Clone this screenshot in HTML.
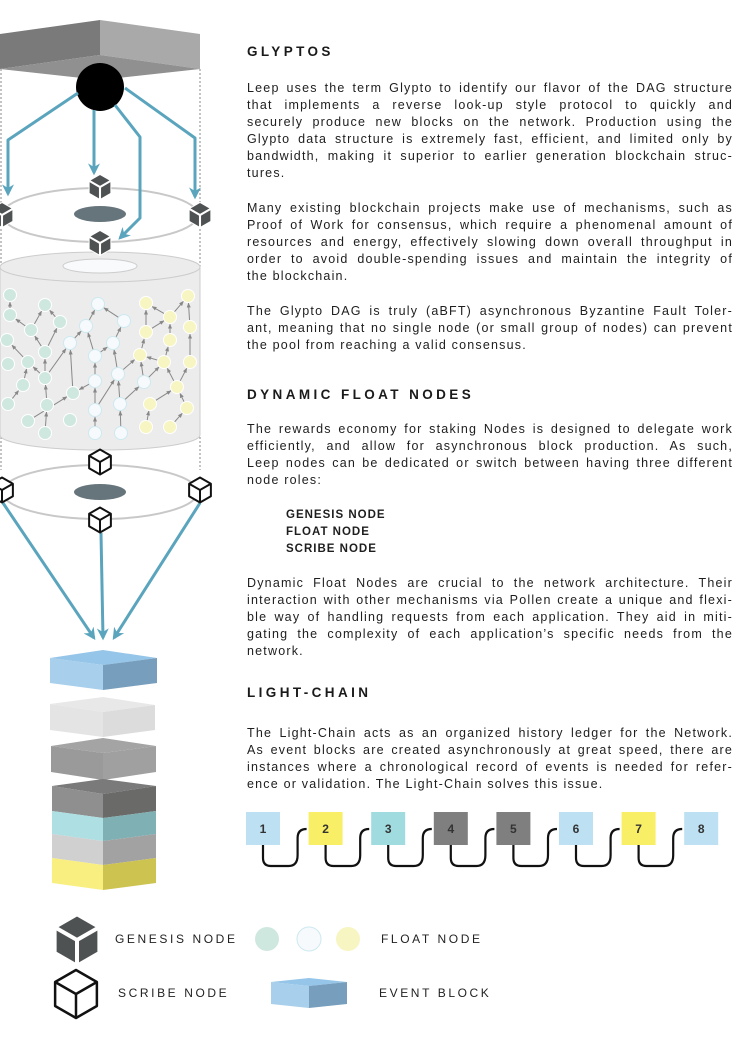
<!DOCTYPE html>
<html><head><meta charset="utf-8"><style>
html,body{margin:0;padding:0;background:#fff;width:745px;height:1043px;overflow:hidden;position:relative;font-family:"Liberation Sans",sans-serif;color:#1e1e1e}
.h{position:absolute;left:247px;font-weight:bold;font-size:13.5px;letter-spacing:3.4px;color:#1a1a1a}
.p{position:absolute;left:247px;width:486px;font-size:12.5px;letter-spacing:1.2px;line-height:17px}
.p div{text-align:justify;text-align-last:justify;white-space:nowrap;height:17px}
.p div.l{text-align-last:left}
.b{position:absolute;left:286px;font-weight:bold;font-size:11.5px;letter-spacing:1px;line-height:17px}
.lg{position:absolute;font-size:12px;letter-spacing:2.6px;color:#222}
</style></head><body>
<svg id="s" width="745" height="1043" style="position:absolute;left:0;top:0">
<defs>
<marker id="ta" viewBox="0 0 10 10" refX="8" refY="5" markerWidth="4" markerHeight="4" orient="auto"><path d="M0,0 L10,5 L0,10 L3,5z" fill="#5aa5bd"/></marker>
<marker id="ga" viewBox="0 0 10 10" refX="9" refY="5" markerWidth="5" markerHeight="5" orient="auto"><path d="M0,1 L10,5 L0,9z" fill="#888"/></marker>
</defs>
<polygon points="0,34 100,20 100,55 0,69" fill="#7a7a7a"/>
<polygon points="100,20 200,34 200,69 100,55" fill="#a8a9a8"/>
<polygon points="0,69 100,55 200,69 100,80" fill="#909090"/>
<line x1="1" y1="69" x2="1" y2="470" stroke="#888" stroke-dasharray="2,2"/>
<line x1="200" y1="69" x2="200" y2="470" stroke="#888" stroke-dasharray="2,2"/>
<ellipse cx="100" cy="215" rx="98" ry="27" fill="none" stroke="#c8c8c8" stroke-width="2"/>
<ellipse cx="100" cy="214" rx="26" ry="8" fill="#66757c"/>
<circle cx="100" cy="87" r="24" fill="#000"/>
<g fill="none" stroke="#5aa5bd" stroke-width="3" stroke-linejoin="round">
<polyline points="78,93 8,140 8,194" marker-end="url(#ta)"/>
<polyline points="94,110 94,173" marker-end="url(#ta)"/>
<polyline points="115,105 140,137 140,218 120,238" marker-end="url(#ta)"/>
<polyline points="125,88 195,138 195,197" marker-end="url(#ta)"/>
</g>
<path d="M0,267 L0,435 A100,15 0 0 0 200,435 L200,267z" fill="#ebeceb" stroke="#ccc"/>
<ellipse cx="100" cy="267" rx="100" ry="15" fill="#ebeceb" stroke="#ccc"/>
<ellipse cx="100" cy="266" rx="37" ry="7" fill="#f8fafc" stroke="#ccc"/>
<g id="dag"></g>
<ellipse cx="100" cy="492" rx="98" ry="27" fill="none" stroke="#c8c8c8" stroke-width="2"/>
<ellipse cx="100" cy="492" rx="26" ry="8" fill="#66757c"/>
<g fill="none" stroke="#5aa5bd" stroke-width="3">
<line x1="3" y1="503" x2="94" y2="638" marker-end="url(#ta)"/>
<line x1="101" y1="533" x2="103" y2="638" marker-end="url(#ta)"/>
<line x1="200" y1="503" x2="114" y2="638" marker-end="url(#ta)"/>
</g>
<polygon points="50,658 103,650 157,658 103,665" fill="#95c5e8"/>
<polygon points="50,658 103,665 103,690 50,683" fill="#a8cfeb"/>
<polygon points="103,665 157,658 157,683 103,690" fill="#779fbd"/>
<polygon points="50,704 103,697 155,705 103,712" fill="#e8e8e8"/>
<polygon points="50,704 103,712 103,737 50,730" fill="#e4e4e4"/>
<polygon points="103,712 155,705 155,730 103,737" fill="#dcdcdc"/>
<polygon points="51,746 103,738 156,746 103,753" fill="#a4a4a4"/>
<polygon points="51,746 103,753 103,780 51,772" fill="#9a9a9a"/>
<polygon points="103,753 156,746 156,772 103,780" fill="#a0a0a0"/>
<polygon points="52,786 103,779 156,786 103,794" fill="#7a7a7a"/>
<polygon points="52,786 103,794 103,818 52,811" fill="#8f8f8f"/>
<polygon points="103,794 156,786 156,811 103,818" fill="#6a6a69"/>
<polygon points="52,811 103,818 103,841 52,834" fill="#addfe3"/>
<polygon points="103,818 156,811 156,834 103,841" fill="#7fb0b3"/>
<polygon points="52,834 103,841 103,865 52,858" fill="#d0d0d0"/>
<polygon points="103,841 156,834 156,858 103,865" fill="#a2a2a2"/>
<polygon points="52,858 103,865 103,890 52,883" fill="#f9ef80"/>
<polygon points="103,865 156,858 156,883 103,890" fill="#cdc350"/>
<g id="cubes"></g>
<circle cx="267" cy="939" r="12" fill="#cfe8df"/>
<circle cx="309" cy="939" r="12" fill="#f7fafc" stroke="#cde9f0"/>
<circle cx="348" cy="939" r="12" fill="#f7f5c2"/>
<polygon points="271,982 309,978 347,982 309,986" fill="#95c5e8"/>
<polygon points="271,982 309,986 309,1008 271,1004" fill="#a8cfeb"/>
<polygon points="309,986 347,982 347,1004 309,1008" fill="#779fbd"/>
<g id="chain"></g>
</svg>

<div class="h" style="top:44px">GLYPTOS</div>
<div class="p" style="top:80px">
<div>Leep uses the term Glypto to identify our flavor of the DAG structure</div>
<div>that implements a reverse look-up style protocol to quickly and</div>
<div>securely produce new blocks on the network. Production using the</div>
<div>Glypto data structure is extremely fast, efficient, and limited only by</div>
<div>bandwidth, making it superior to earlier generation blockchain struc-</div>
<div class="l">tures.</div>
</div>
<div class="p" style="top:200px">
<div>Many existing blockchain projects make use of mechanisms, such as</div>
<div>Proof of Work for consensus, which require a phenomenal amount of</div>
<div>resources and energy, effectively slowing down overall throughput in</div>
<div>order to avoid double-spending issues and maintain the integrity of</div>
<div class="l">the blockchain.</div>
</div>
<div class="p" style="top:303px">
<div>The Glypto DAG is truly (aBFT) asynchronous Byzantine Fault Toler-</div>
<div>ant, meaning that no single node (or small group of nodes) can prevent</div>
<div class="l">the pool from reaching a valid consensus.</div>
</div>
<div class="h" style="top:387px">DYNAMIC FLOAT NODES</div>
<div class="p" style="top:421px">
<div>The rewards economy for staking Nodes is designed to delegate work</div>
<div>efficiently, and allow for asynchronous block production. As such,</div>
<div>Leep nodes can be dedicated or switch between having three different</div>
<div class="l">node roles:</div>
</div>
<div class="b" style="top:507px">GENESIS NODE<br>FLOAT NODE<br>SCRIBE NODE</div>
<div class="p" style="top:575px">
<div>Dynamic Float Nodes are crucial to the network architecture. Their</div>
<div>interaction with other mechanisms via Pollen create a unique and flexi-</div>
<div>ble way of handling requests from each application. They aid in miti-</div>
<div>gating the complexity of each application’s specific needs from the</div>
<div class="l">network.</div>
</div>
<div class="h" style="top:685px">LIGHT-CHAIN</div>
<div class="p" style="top:725px">
<div>The Light-Chain acts as an organized history ledger for the Network.</div>
<div>As event blocks are created asynchronously at great speed, there are</div>
<div>instances where a chronological record of events is needed for refer-</div>
<div class="l">ence or validation. The Light-Chain solves this issue.</div>
</div>
<div class="lg" style="left:115px;top:932px">GENESIS NODE</div>
<div class="lg" style="left:381px;top:932px">FLOAT NODE</div>
<div class="lg" style="left:118px;top:986px">SCRIBE NODE</div>
<div class="lg" style="left:379px;top:986px">EVENT BLOCK</div>

<script>
var NS="http://www.w3.org/2000/svg";
function el(p,t,a){var e=document.createElementNS(NS,t);for(var k in a)e.setAttribute(k,a[k]);p.appendChild(e);return e;}
var dag=document.getElementById('dag');
var G=[[10,295],[45,305],[10,315],[31,330],[60,322],[7,340],[45,352],[8,364],[28,362],[45,378],[23,385],[47,405],[8,404],[28,421],[45,433],[73,393],[70,420]];
var W=[[98,304],[124,321],[86,326],[70,343],[113,343],[95,356],[95,381],[118,374],[95,410],[120,404],[144,382],[95,433],[121,433]];
var Y=[[146,303],[188,296],[170,317],[146,332],[190,327],[170,340],[140,355],[164,362],[190,362],[177,387],[150,404],[187,408],[146,427],[170,427]];
var E=[[G[2],G[0]],[G[3],G[2]],[G[3],G[1]],[G[4],G[1]],[G[6],G[3]],[G[6],G[4]],[G[8],G[5]],[G[9],G[6]],[G[9],G[8]],[G[10],G[8]],[G[12],G[10]],[G[11],G[9]],[G[14],G[11]],[G[13],G[15]],[G[15],W[3]],[G[9],W[3]],[W[3],W[2]],[W[2],W[0]],[W[5],W[2]],[W[5],W[4]],[W[4],W[1]],[W[6],W[5]],[W[6],G[15]],[W[8],W[6]],[W[8],W[7]],[W[7],W[4]],[W[9],W[7]],[W[9],W[10]],[W[11],W[8]],[W[12],W[9]],[W[1],W[0]],[W[7],Y[6]],[W[10],Y[7]],[Y[6],Y[3]],[Y[3],Y[0]],[Y[2],Y[0]],[Y[3],Y[2]],[Y[2],Y[1]],[Y[4],Y[1]],[Y[5],Y[2]],[Y[7],Y[6]],[Y[7],Y[5]],[Y[9],Y[7]],[Y[9],Y[8]],[Y[8],Y[4]],[Y[10],Y[9]],[Y[11],Y[9]],[Y[12],Y[10]],[Y[13],Y[11]],[W[10],Y[6]]];
E.forEach(function(e){var a=e[0],b=e[1],dx=b[0]-a[0],dy=b[1]-a[1],d=Math.hypot(dx,dy)||1;
el(dag,'line',{x1:a[0]+dx/d*6,y1:a[1]+dy/d*6,x2:b[0]-dx/d*7,y2:b[1]-dy/d*7,stroke:'#888','stroke-width':1,'marker-end':'url(#ga)'});});
G.forEach(function(p){el(dag,'circle',{cx:p[0],cy:p[1],r:6.5,fill:'#cfe8df',stroke:'#fff'})});
W.forEach(function(p){el(dag,'circle',{cx:p[0],cy:p[1],r:6.5,fill:'#f7fafc',stroke:'#cde9f0'})});
Y.forEach(function(p){el(dag,'circle',{cx:p[0],cy:p[1],r:6.5,fill:'#f7f5c2',stroke:'#fff'})});
var cg=document.getElementById('cubes');
function cube(cx,cy,s,gen){var h=s*0.87;
var hex=[cx,cy-s,cx+h,cy-s/2,cx+h,cy+s/2,cx,cy+s,cx-h,cy+s/2,cx-h,cy-s/2].join(',');
if(gen){el(cg,'polygon',{points:hex,fill:'#4f5253',stroke:'#fff','stroke-width':1});
el(cg,'polyline',{points:[cx-h,cy-s/2,cx,cy,cx+h,cy-s/2].join(','),fill:'none',stroke:'#fff','stroke-width':s/6});
el(cg,'line',{x1:cx,y1:cy,x2:cx,y2:cy+s,stroke:'#fff','stroke-width':s/6});}
else{var w=s>15?2.5:2;el(cg,'polygon',{points:hex,fill:'#fff',stroke:'#111','stroke-width':w,'stroke-linejoin':'round'});
el(cg,'polyline',{points:[cx-h,cy-s/2,cx,cy,cx+h,cy-s/2].join(','),fill:'none',stroke:'#111','stroke-width':w});
el(cg,'line',{x1:cx,y1:cy,x2:cx,y2:cy+s,stroke:'#111','stroke-width':w});}}
cube(100,187,12.5,1);cube(2,215,12.5,1);cube(200,215,12.5,1);cube(100,243,12.5,1);
cube(100,462,12.5,0);cube(2,490,12.5,0);cube(200,490,12.5,0);cube(100,520,12.5,0);
cube(77,940,24,1);cube(76,994,24,0);
var ch=document.getElementById('chain');
var cols=['#bde0f2','#f9ef67','#a0dbe0','#807f7f','#807f7f','#bde0f2','#f9ef67','#bde0f2'];
for(var i=0;i<8;i++){var x=246+i*62.6;
if(i<7){var bx=x+17,nx=x+62.6;
el(ch,'path',{d:'M'+bx+',845 L'+bx+',858 Q'+bx+',866 '+(bx+8)+',866 L'+(nx-20)+',866 Q'+(nx-11)+',866 '+(nx-11)+',855 L'+(nx-11)+',838 Q'+(nx-11)+',829 '+(nx-2)+',829',fill:'none',stroke:'#111','stroke-width':2.2});}
el(ch,'rect',{x:x,y:812,width:34,height:33,fill:cols[i]});
var t=el(ch,'text',{x:x+17,y:833,'text-anchor':'middle','font-size':12,'font-weight':'bold','font-family':'Liberation Sans, sans-serif',fill:'#333'});t.textContent=(i+1);}
</script>
</body></html>
